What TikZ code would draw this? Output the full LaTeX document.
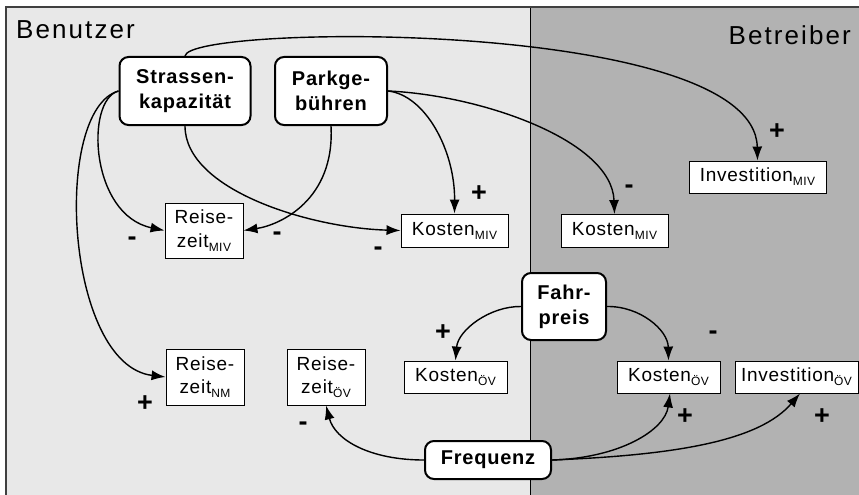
\documentclass[tikz,border=0pt]{standalone}
\usepackage{fontspec}
\setmainfont{Liberation Sans}[LetterSpace=4]
\newfontfamily\titlefont{Liberation Sans}[LetterSpace=8]
\usetikzlibrary{arrows.meta}
\definecolor{lightg}{RGB}{232,232,232}
\definecolor{darkg}{RGB}{178,178,178}
\definecolor{framec}{RGB}{64,64,64}
\newcommand{\sbs}[1]{\raisebox{-4pt}{\fontsize{12}{13}\selectfont #1}}
\begin{document}
\begin{tikzpicture}[x=1pt,y=-1pt,
  box/.style={draw, line width=0.9pt, fill=white, inner sep=0pt, align=center, font=\fontsize{19}{23.5}\selectfont},
  key/.style={draw, line width=2pt, rounded corners=9pt, fill=white, inner sep=0pt, align=center, font=\fontsize{20}{25}\selectfont\bfseries},
  arr/.style={line width=1.4pt, -{Latex[length=14pt,width=10pt]}},
  sgn/.style={font=\fontsize{27}{27}\selectfont\bfseries, inner sep=0pt},
  title/.style={font=\titlefont\fontsize{26}{26}\selectfont, inner sep=0pt}]
\useasboundingbox (0,0) rectangle (859,495);
\fill[white] (0,0) rectangle (859,495);
\fill[lightg] (6,7) rectangle (530,500);
\fill[darkg] (530,7) rectangle (865,500);
\draw[line width=1pt] (530,7) -- (530,500);
\draw[framec, line width=2pt] (6,500) -- (6,7) -- (865,7);

\node[title, anchor=base west] (ben) at (16,39) {Benutzer};
\node[title, anchor=base east] (bet) at (851,45) {Betreiber};

% key nodes
\node[key, minimum width=131pt, minimum height=68pt] (sk) at (185,91) {Strassen-\\kapazität};
\node[key, minimum width=112pt, minimum height=68pt] (pg) at (331,91) {Parkge-\\bühren};
\node[key, minimum width=84pt, minimum height=67pt] (fp) at (564,306.5) {Fahr-\\preis};
\node[key, minimum width=126pt, minimum height=38pt] (fq) at (488,460) {Frequenz};

% boxes
\node[box, minimum width=78pt, minimum height=55pt] (rzmiv) at (204,230.5) {Reise-\\zeit\sbs{MIV}};
\node[box, minimum width=107pt, minimum height=33pt] (kmiv1) at (454.5,230.5) {Kosten\sbs{MIV}};
\node[box, minimum width=107pt, minimum height=33pt] (kmiv2) at (614.5,231) {Kosten\sbs{MIV}};
\node[box, minimum width=137pt, minimum height=32pt] (imiv) at (757.5,177) {Investition\sbs{MIV}};
\node[box, minimum width=78pt, minimum height=56pt] (rznm) at (205,377) {Reise-\\zeit\sbs{NM}};
\node[box, minimum width=78pt, minimum height=56pt] (rzov) at (326,377) {Reise-\\zeit\sbs{ÖV}};
\node[box, minimum width=103pt, minimum height=32pt] (kov1) at (455.5,377) {Kosten\sbs{ÖV}};
\node[box, minimum width=103pt, minimum height=32pt] (kov2) at (668.5,377) {Kosten\sbs{ÖV}};
\node[box, minimum width=123pt, minimum height=32pt] (iov) at (796.5,377) {Investition\sbs{ÖV}};

% connectors
\draw[arr] (sk.north) .. controls (188,24) and (755,18) .. (imiv.north);
\draw[arr] (sk.west) .. controls (85,100) and (90,215) .. (rzmiv.west);
\draw[arr] (sk.west) .. controls (52,110) and (65,365) .. (rznm.west);
\draw[arr] (sk.south) .. controls (185,190) and (310,228) .. (kmiv1.west);
\draw[arr] (pg.south) .. controls (335,200) and (280,225) .. (rzmiv.east);
\draw[arr] (pg.east) .. controls (425,95) and (455,150) .. (kmiv1.north);
\draw[arr] (pg.east) .. controls (480,95) and (612,140) .. (kmiv2.north);
\draw[arr] (fp.west) .. controls (490,306) and (458,330) .. (kov1.north);
\draw[arr] (fp.east) .. controls (640,306) and (668,330) .. (kov2.north);
\draw[arr] (fq.west) .. controls (370,460) and (335,440) .. (rzov.south);
\draw[arr] (fq.east) .. controls (620,458) and (665,430) .. ([xshift=1.5pt]kov2.south);
\draw[arr] (fq.east) .. controls (680,455) and (760,440) .. ([xshift=3.5pt]iov.south);

% signs
\node[sgn] (s1) at (777,132) {+};
\node[sgn] (s2) at (479,194) {+};
\node[sgn] (s3) at (629,189) {-};
\node[sgn] (s4) at (132,241) {-};
\node[sgn] (s5) at (277,236) {-};
\node[sgn] (s6) at (378,251) {-};
\node[sgn] (s7) at (145,404) {+};
\node[sgn] (s8) at (303,426) {-};
\node[sgn] (s9) at (443,333) {+};
\node[sgn] (s10) at (713,335) {-};
\node[sgn] (s11) at (685,417) {+};
\node[sgn] (s12) at (822,417) {+};
\end{tikzpicture}
\end{document}
